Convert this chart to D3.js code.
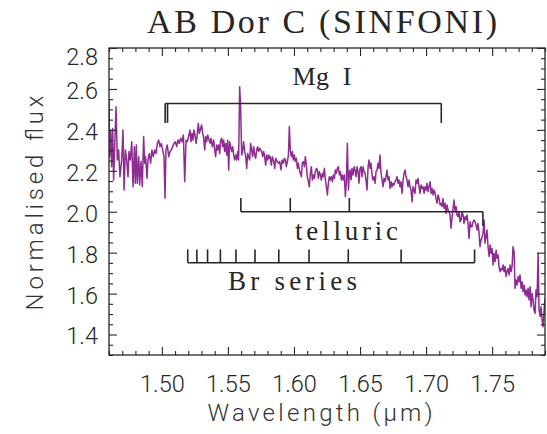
<!DOCTYPE html>
<html>
<head>
<meta charset="utf-8">
<script src="https://cdn.jsdelivr.net/npm/d3@7"></script>
<style>
  html, body { margin: 0; padding: 0; background: #fff; }
  svg { display: block; }
</style>
</head>
<body>
<svg id="chart" width="547" height="434"></svg>
<script>
// ---------------- data ----------------
const wavelength = [
1.4600,1.4605,1.4613,1.4620,1.4628,1.4635,1.4643,1.4653,1.4663,1.4673,1.4683,1.4696,1.4706,1.4714,1.4724,1.4734,1.4744,1.4751,1.4761,1.4772,
1.4782,1.4792,1.4799,1.4807,1.4814,1.4825,1.4832,1.4842,1.4852,1.4862,1.4870,1.4877,1.4888,1.4895,1.4905,1.4915,1.4925,1.4935,1.4946,1.4956,
1.4966,1.4976,1.4986,1.4996,1.5006,1.5016,1.5024,1.5031,1.5041,1.5052,1.5062,1.5072,1.5082,1.5092,1.5102,1.5112,1.5122,1.5132,1.5142,1.5152,
1.5163,1.5173,1.5183,1.5193,
1.5213,1.5221,1.5228,1.5236,1.5243,1.5251,1.5259,1.5266,1.5276,1.5284,1.5294,1.5301,1.5309,1.5317,1.5324,1.5332,1.5339,1.5347,1.5357,1.5365,
1.5372,1.5382,1.5392,1.5400,1.5407,1.5415,1.5423,1.5430,1.5438,1.5445,1.5453,1.5460,1.5468,1.5475,1.5483,1.5491,1.5498,1.5506,1.5513,1.5521,
1.5528,1.5536,1.5544,1.5551,1.5559,1.5566,1.5574,1.5581,1.5589,1.5597,1.5604,1.5612,1.5619,1.5627,1.5635,1.5642,1.5650,1.5657,1.5665,1.5672,
1.5680,1.5687,1.5695,1.5703,1.5710,1.5718,1.5725,1.5733,1.5741,1.5748,1.5756,1.5763,1.5771,1.5778,1.5786,1.5794,1.5801,1.5809,1.5816,
1.5819,1.5829,1.5836,1.5847,1.5854,1.5862,1.5872,1.5882,1.5892,1.5902,1.5910,1.5920,1.5927,1.5935,1.5942,1.5950,1.5958,1.5965,1.5973,1.5980,
1.5988,1.5995,1.6003,1.6010,1.6018,1.6026,1.6033,1.6041,1.6048,1.6056,1.6063,1.6071,1.6079,1.6086,1.6094,1.6101,1.6109,1.6116,1.6124,1.6132,
1.6139,1.6147,1.6154,1.6162,1.6170,1.6177,1.6185,1.6192,1.6200,1.6207,1.6215,1.6222,1.6230,1.6238,1.6245,1.6253,1.6260,1.6268,1.6275,1.6283,
1.6291,1.6298,1.6306,1.6313,1.6321,1.6328,1.6336,1.6344,1.6351,1.6359,1.6366,1.6374,1.6381,1.6389,1.6397,1.6404,1.6412,1.6419,
1.6424,1.6432,1.6439,1.6447,1.6455,1.6462,1.6470,1.6477,1.6485,1.6492,1.6500,1.6508,1.6515,1.6523,1.6530,1.6538,1.6545,1.6553,1.6561,1.6568,
1.6576,1.6583,1.6591,1.6598,1.6606,1.6614,1.6621,1.6629,1.6636,1.6644,1.6651,1.6659,1.6667,1.6674,1.6682,1.6689,1.6697,1.6704,1.6712,1.6720,
1.6727,1.6735,1.6742,1.6750,1.6757,1.6765,1.6773,1.6780,1.6788,1.6795,1.6803,1.6810,1.6818,1.6826,1.6833,1.6841,1.6848,1.6856,1.6863,1.6871,
1.6879,1.6886,1.6894,1.6901,1.6909,1.6916,1.6924,1.6932,1.6939,1.6947,1.6954,1.6962,1.6969,1.6977,1.6985,1.6992,1.7000,1.7007,1.7015,1.7022,
1.7030,1.7038,1.7045,1.7053,1.7060,1.7068,1.7075,1.7083,1.7091,1.7098,1.7106,1.7113,1.7121,1.7128,1.7136,1.7144,1.7151,1.7159,1.7166,1.7174,
1.7181,1.7189,1.7197,1.7204,1.7212,1.7219,1.7227,1.7234,1.7242,1.7250,1.7257,1.7265,1.7272,1.7280,1.7287,1.7295,1.7302,1.7310,1.7318,1.7325,
1.7333,1.7340,1.7348,1.7355,1.7363,1.7371,1.7378,1.7386,1.7393,1.7401,1.7408,1.7416,1.7424,
1.7431,1.7439,1.7446,1.7454,1.7461,1.7469,1.7477,1.7484,1.7492,1.7499,1.7507,1.7514,1.7522,1.7530,1.7537,1.7545,1.7552,1.7560,1.7567,1.7575,
1.7583,1.7590,1.7598,1.7605,1.7613,1.7620,1.7628,1.7636,1.7643,1.7651,1.7658,1.7666,1.7673,1.7681,1.7689,1.7696,1.7704,1.7711,1.7719,1.7726,
1.7734,1.7742,1.7749,1.7757,1.7764,1.7772,1.7779,1.7787,1.7795,1.7802,1.7810,1.7817,1.7825,1.7832,1.7840,1.7848,1.7855,1.7863,1.7870,1.7878,
1.7885,1.7893,1.7900
];
const flux = [
2.546,2.269,2.399,2.220,2.407,2.155,2.318,2.513,2.253,2.302,2.171,2.253,2.399,2.106,2.302,2.253,2.171,2.294,2.253,2.342,
2.122,2.318,2.139,2.326,2.139,2.269,2.131,2.245,2.122,2.367,2.237,2.269,2.163,2.253,2.285,2.237,2.302,2.269,2.302,2.285,
2.334,2.350,2.318,2.334,2.302,2.269,2.066,2.302,2.326,2.269,2.294,2.302,2.318,2.334,2.342,2.318,2.350,2.334,2.359,2.342,
2.375,2.147,2.350,2.342,
2.399,2.342,2.383,2.350,2.399,2.375,2.334,2.367,2.432,2.383,2.407,2.424,2.383,2.359,2.302,2.367,2.342,2.375,2.350,2.334,
2.359,2.318,2.350,2.302,2.269,2.326,2.302,2.326,2.285,2.350,2.359,2.318,2.350,2.294,2.334,2.277,2.350,2.204,2.342,2.318,
2.294,2.318,2.277,2.253,2.277,2.253,2.294,2.253,2.611,2.497,2.277,2.302,2.342,2.294,2.269,2.212,2.285,2.269,2.253,2.334,
2.302,2.269,2.318,2.277,2.261,2.302,2.318,2.294,2.310,2.302,2.294,2.269,2.294,2.269,2.228,2.277,2.253,2.277,2.261,
2.269,2.228,2.269,2.245,2.212,2.261,2.245,2.237,2.245,2.204,2.253,2.237,2.261,2.253,2.220,2.245,2.277,2.416,2.294,2.269,
2.294,2.253,2.277,2.245,2.261,2.212,2.237,2.204,2.188,2.171,2.237,2.245,2.220,2.269,2.228,2.171,2.147,2.122,2.188,2.220,
2.155,2.180,2.163,2.196,2.212,2.204,2.163,2.196,2.180,2.155,2.188,2.171,2.212,2.155,2.122,2.082,2.139,2.171,2.155,2.171,
2.147,2.180,2.163,2.204,2.188,2.212,2.220,2.180,2.196,2.155,2.180,2.155,2.180,2.074,2.155,2.334,2.106,2.188,
2.204,2.155,2.212,2.180,2.220,2.204,2.171,2.220,2.196,2.139,2.212,2.220,2.171,2.220,2.196,2.188,2.155,2.106,2.220,2.253,
2.212,2.237,2.180,2.155,2.171,2.139,2.196,2.204,2.237,2.212,2.277,2.188,2.155,2.122,2.163,2.147,2.171,2.204,2.155,2.171,
2.114,2.147,2.122,2.139,2.131,2.147,2.155,2.171,2.139,2.155,2.122,2.147,2.090,2.155,2.188,2.204,2.171,2.155,2.122,2.155,
2.122,2.106,2.049,2.122,2.106,2.090,2.155,2.139,2.163,2.122,2.090,2.131,2.114,2.122,2.090,2.122,2.106,2.139,2.098,2.122,
2.147,2.090,2.114,2.082,2.106,2.090,2.065,2.041,2.082,2.065,2.033,2.041,2.025,2.065,2.017,2.041,1.992,2.033,2.008,2.000,
1.984,1.919,1.976,2.017,2.057,2.000,2.025,1.984,1.976,2.000,1.951,1.960,2.000,1.984,1.943,1.976,1.960,1.984,1.935,1.870,
1.951,1.927,1.927,1.951,1.960,1.951,1.935,1.911,1.943,1.894,1.829,1.862,1.878,
1.894,1.960,1.846,1.878,1.911,1.829,1.781,1.837,1.797,1.821,1.740,1.797,1.756,1.813,1.772,1.789,1.732,1.707,1.723,1.715,
1.740,1.707,1.732,1.683,1.707,1.723,1.691,1.740,1.707,1.732,1.829,1.805,1.626,1.666,1.642,1.683,1.658,1.691,1.626,1.658,
1.609,1.642,1.593,1.618,1.585,1.626,1.569,1.634,1.536,1.601,1.569,1.520,1.504,1.618,1.585,1.797,1.520,1.487,1.536,1.471,
1.438,1.520,1.577
];

const xTickValues = [1.50, 1.55, 1.60, 1.65, 1.70, 1.75];
const yTickValues = [1.4, 1.6, 1.8, 2.0, 2.2, 2.4, 2.6, 2.8];

// line identifications (microns)
const mgLines = [1.5025, 1.5043, 1.7115];
const telluricLines = [1.5598, 1.5972, 1.6419];
const telluricEnd = 1.7430;
const brLines = [1.5196, 1.5265, 1.5346, 1.5443, 1.5561, 1.5705, 1.5885, 1.6114, 1.6411, 1.6811, 1.7367];

// ---------------- layout ----------------
const svg = d3.select("#chart");
const L = 109, R = 545, T = 48, B = 355;
const x = d3.scaleLinear().domain([1.46, 1.79]).range([L, R]);
const y = d3.scaleLinear().domain([1.3, 2.8]).range([B, T]);

const ink = "#262626";
const purple = "#8E2C92";
const sans = "Roboto, 'DejaVu Sans', sans-serif";

svg.append("clipPath").attr("id", "clip")
  .append("rect").attr("x", L).attr("y", T).attr("width", R - L).attr("height", B - T);

// spectrum
const pts = wavelength.map((w, i) => [w, flux[i]]);
svg.append("path")
  .datum(pts)
  .attr("clip-path", "url(#clip)")
  .attr("fill", "none")
  .attr("stroke", purple)
  .attr("stroke-width", 1.5)
  .attr("stroke-linejoin", "round")
  .attr("d", d3.line().x(d => x(d[0])).y(d => y(d[1])));

const minorX = d3.range(1.46, 1.7901, 0.01).map(v => +v.toFixed(2)).filter(v => !xTickValues.some(t => Math.abs(t - v) < 1e-6));
const minorY = d3.range(1.30, 2.8001, 0.05).map(v => +v.toFixed(2)).filter(v => !yTickValues.some(t => Math.abs(t - v) < 1e-6));

function styleAxis(g) {
  g.select(".domain").remove();
  g.selectAll(".tick line").attr("stroke", ink).attr("stroke-width", 1.1);
}

svg.append("g").attr("transform", `translate(0,${B})`)
  .call(d3.axisBottom(x).tickValues(xTickValues).tickSize(-8).tickPadding(20).tickFormat(d3.format(".2f")))
  .call(styleAxis)
  .call(g => g.selectAll("text").attr("font-family", sans)
     .attr("font-weight", 300).attr("font-size", 23.5).attr("fill", ink));
svg.append("g").attr("transform", `translate(0,${B})`)
  .call(d3.axisBottom(x).tickValues(minorX).tickSize(-4).tickFormat(""))
  .call(styleAxis);
svg.append("g").attr("transform", `translate(0,${T})`)
  .call(d3.axisTop(x).tickValues(xTickValues).tickSize(-8).tickFormat(""))
  .call(styleAxis);
svg.append("g").attr("transform", `translate(0,${T})`)
  .call(d3.axisTop(x).tickValues(minorX).tickSize(-4).tickFormat(""))
  .call(styleAxis);
svg.append("g").attr("transform", `translate(${L},0)`)
  .call(d3.axisLeft(y).tickValues(yTickValues).tickSize(-8).tickPadding(11).tickFormat(d3.format(".1f")))
  .call(styleAxis)
  .call(g => g.selectAll("text").attr("font-family", sans)
     .attr("font-weight", 300).attr("font-size", 23.5).attr("fill", ink)
     .attr("dy", d => d === 2.8 ? "0.72em" : "0.4em"));
svg.append("g").attr("transform", `translate(${L},0)`)
  .call(d3.axisLeft(y).tickValues(minorY).tickSize(-4).tickFormat(""))
  .call(styleAxis);
svg.append("g").attr("transform", `translate(${R},0)`)
  .call(d3.axisRight(y).tickValues(yTickValues).tickSize(-8).tickFormat(""))
  .call(styleAxis);
svg.append("g").attr("transform", `translate(${R},0)`)
  .call(d3.axisRight(y).tickValues(minorY).tickSize(-4).tickFormat(""))
  .call(styleAxis);

svg.append("rect").attr("x", L).attr("y", T).attr("width", R - L).attr("height", B - T)
  .attr("fill", "none").attr("stroke", ink).attr("stroke-width", 1.3);

// ---------------- annotations ----------------
const ann = svg.append("g").attr("stroke", ink).attr("stroke-width", 1.6).attr("fill", "none");
const mgY = 2.529, mgTickY = 2.434;
ann.append("line").attr("x1", x(d3.min(mgLines))).attr("x2", x(d3.max(mgLines)))
  .attr("y1", y(mgY)).attr("y2", y(mgY));
mgLines.forEach(w => ann.append("line").attr("x1", x(w)).attr("x2", x(w)).attr("y1", y(mgY)).attr("y2", y(mgTickY)));
const telY = 2.0, telTickY = 2.067, telEndY = 1.93;
ann.append("line").attr("x1", x(telluricLines[0])).attr("x2", x(telluricEnd))
  .attr("y1", y(telY)).attr("y2", y(telY));
telluricLines.forEach(w => ann.append("line").attr("x1", x(w)).attr("x2", x(w)).attr("y1", y(telY)).attr("y2", y(telTickY)));
ann.append("line").attr("x1", x(telluricEnd)).attr("x2", x(telluricEnd)).attr("y1", y(telY)).attr("y2", y(telEndY));
const brY = 1.751, brTickY = 1.816;
ann.append("line").attr("x1", x(d3.min(brLines))).attr("x2", x(d3.max(brLines)))
  .attr("y1", y(brY)).attr("y2", y(brY));
brLines.forEach(w => ann.append("line").attr("x1", x(w)).attr("x2", x(w)).attr("y1", y(brY)).attr("y2", y(brTickY)));

const serif = "'Liberation Serif', 'DejaVu Serif', serif";
function label(txt, wx, fy, size, len) {
  svg.append("text").attr("x", x(wx)).attr("y", y(fy))
    .attr("text-anchor", "middle").attr("font-family", serif).attr("font-size", size)
    .attr("fill", ink).attr("textLength", len).attr("lengthAdjust", "spacing")
    .attr("xml:space", "preserve").text(txt);
}
label("Mg  I", 1.6212, 2.619, 26, 59);
label("telluric", 1.6398, 1.862, 27, 103);
label("Br series", 1.5989, 1.618, 27, 129);

svg.append("text").attr("x", 322).attr("y", 33).attr("text-anchor", "middle")
  .attr("font-family", serif).attr("font-size", 34).attr("fill", ink)
  .attr("textLength", 350).attr("lengthAdjust", "spacing")
  .text("AB Dor C (SINFONI)");

svg.append("text").attr("x", 320).attr("y", 421).attr("text-anchor", "middle")
  .attr("font-family", sans).attr("font-weight", 300)
  .attr("font-size", 24).attr("fill", "#333").attr("textLength", 225).attr("lengthAdjust", "spacing")
  .text("Wavelength (μm)");
svg.append("text").attr("transform", `translate(43,203) rotate(-90)`)
  .attr("text-anchor", "middle")
  .attr("font-family", sans).attr("font-weight", 300)
  .attr("font-size", 24).attr("fill", "#333").attr("textLength", 215).attr("lengthAdjust", "spacing")
  .text("Normalised flux");
</script>
</body>
</html>
